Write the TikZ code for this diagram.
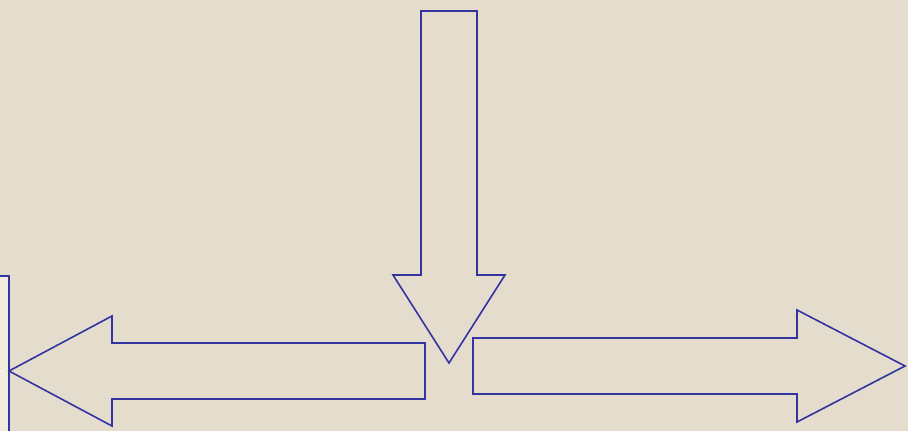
\documentclass[tikz,border=0pt]{standalone}
\usepackage{tikz}
\definecolor{paper}{RGB}{228,221,206}
\definecolor{cream}{RGB}{243,237,223}
\definecolor{inkblue}{RGB}{52,52,160}
\tikzset{
  outline/.style={draw=inkblue,line width=1.6pt,line join=miter},
  every picture/.style={x=1pt,y=-1pt}
}
\begin{document}
\begin{tikzpicture}
    \fill[paper] (0,0) rectangle (908,431); \useasboundingbox (0,0) rectangle (908,431);
    % panel at the left edge
    \fill[cream] (0,276) rectangle (9,431); \draw[outline] (0,276)--(9,276)--(9,431);
    % arrow pointing down
    \draw[outline] (421,11)--(477,11)--(477,275)--(505,275)--(449,363)--(393,275)--(421,275)--cycle;
    % arrow pointing left
    \draw[outline] (425,343)--(112,343)--(112,316)--(9,371)--(112,426)--(112,399)--(425,399)--cycle;
    % arrow pointing right
    \draw[outline] (473,338)--(797,338)--(797,310)--(905,366)--(797,422)--(797,394)--(473,394)--cycle;
\end{tikzpicture}
\end{document}
